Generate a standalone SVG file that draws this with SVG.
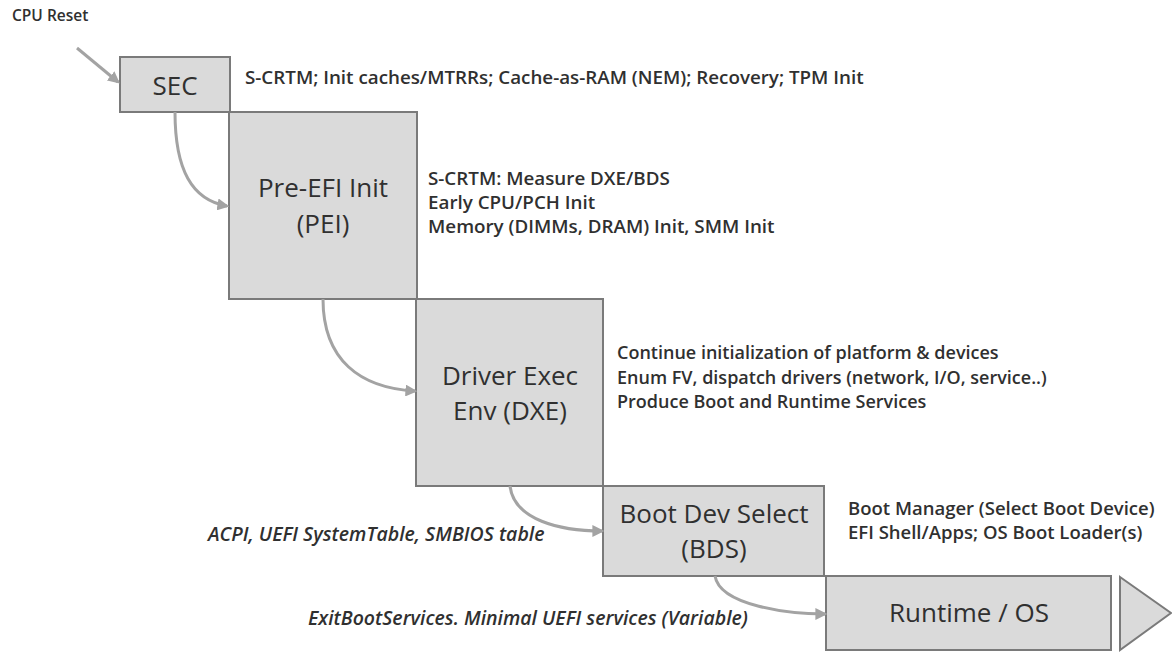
<svg xmlns="http://www.w3.org/2000/svg" width="1172" height="652" viewBox="0 0 1172 652">
  <style>
    .box { fill: #dadada; stroke: #7a7a7a; stroke-width: 2; }
    .label { font-family: "Open Sans", "Liberation Sans", sans-serif; font-size: 26px; fill: #303030; text-anchor: middle; }
    .note { font-family: "Open Sans", "Liberation Sans", sans-serif; font-size: 18.8px; font-weight: 600; fill: #303030; }
    .note-i { font-family: "Open Sans", "Liberation Sans", sans-serif; font-size: 19.5px; font-weight: 600; font-style: italic; fill: #303030; }
    .flow { fill: none; stroke: #a3a3a3; stroke-width: 3; marker-end: url(#head); }
  </style>
  <defs>
    <marker id="head" viewBox="0 0 10 10" refX="8" refY="5" markerWidth="4" markerHeight="4" orient="auto" markerUnits="strokeWidth">
      <path d="M0,0 L10,5 L0,10 Z" fill="#a3a3a3"/>
    </marker>
  </defs>

  <rect width="1172" height="652" fill="#ffffff"/>

  <text class="note" x="12" y="21" style="font-size:15.5px">CPU Reset</text>

  <!-- boot phases -->
  <g id="sec">
    <rect class="box" x="120" y="57" width="110" height="55"/>
    <text class="label" x="175" y="95">SEC</text>
  </g>
  <g id="pei">
    <rect class="box" x="229" y="112" width="188" height="187"/>
    <text class="label" x="323" y="197">Pre-EFI Init</text>
    <text class="label" x="323" y="233">(PEI)</text>
  </g>
  <g id="dxe">
    <rect class="box" x="416" y="299" width="187" height="187"/>
    <text class="label" x="510" y="385">Driver Exec</text>
    <text class="label" x="510" y="420">Env (DXE)</text>
  </g>
  <g id="bds">
    <rect class="box" x="603" y="486" width="221" height="90"/>
    <text class="label" x="714" y="523">Boot Dev Select</text>
    <text class="label" x="714" y="558">(BDS)</text>
  </g>
  <g id="runtime">
    <rect class="box" x="826" y="576" width="285" height="74"/>
    <text class="label" x="969" y="622">Runtime / OS</text>
    <polygon class="box" points="1120,577 1171,613 1120,650"/>
  </g>

  <!-- phase notes -->
  <g id="notes">
    <text class="note" x="245" y="84">S-CRTM; Init caches/MTRRs; Cache-as-RAM (NEM); Recovery; TPM Init</text>
    <text class="note" x="428" y="185">S-CRTM: Measure DXE/BDS</text>
    <text class="note" x="428" y="209">Early CPU/PCH Init</text>
    <text class="note" x="428" y="233">Memory (DIMMs, DRAM) Init, SMM Init</text>
    <text class="note" x="617" y="359" style="font-size:18px">Continue initialization of platform &amp; devices</text>
    <text class="note" x="617" y="384" style="font-size:18px">Enum FV, dispatch drivers (network, I/O, service..)</text>
    <text class="note" x="617" y="408" style="font-size:18px">Produce Boot and Runtime Services</text>
    <text class="note" x="848" y="515" style="font-size:18.5px">Boot Manager (Select Boot Device)</text>
    <text class="note" x="848" y="539" style="font-size:18.5px">EFI Shell/Apps; OS Boot Loader(s)</text>
    <text class="note-i" x="208" y="541">ACPI, UEFI SystemTable, SMBIOS table</text>
    <text class="note-i" x="308" y="625">ExitBootServices. Minimal UEFI services (Variable)</text>
  </g>

  <!-- hand-off arrows -->
  <g id="connectors">
    <path class="flow" d="M77,48 L118,82"/>
    <path class="flow" d="M175,112 C175,170 192,200 227,206"/>
    <path class="flow" d="M323,299 C323,360 360,388 415,391"/>
    <path class="flow" d="M510,486 C514,520 560,531 602,531"/>
    <path class="flow" d="M715,576 C720,606 790,614 825,614"/>
  </g>
</svg>
